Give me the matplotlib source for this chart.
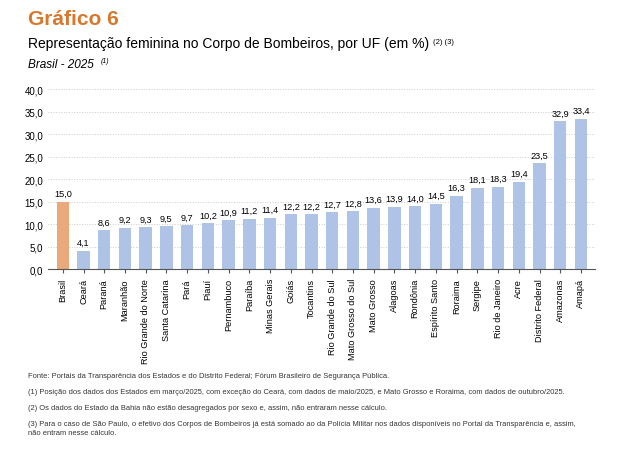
import matplotlib
matplotlib.use("Agg")
import matplotlib.pyplot as plt

ufs = ["Brasil", "Ceará", "Paraná", "Maranhão", "Rio Grande do Norte", "Santa Catarina",
       "Pará", "Piauí", "Pernambuco", "Paraíba", "Minas Gerais", "Goiás", "Tocantins",
       "Rio Grande do Sul", "Mato Grosso do Sul", "Mato Grosso", "Alagoas", "Rondônia",
       "Espírito Santo", "Roraima", "Sergipe", "Rio de Janeiro", "Acre", "Distrito Federal",
       "Amazonas", "Amapá"]
values = [15.0, 4.1, 8.6, 9.2, 9.3, 9.5, 9.7, 10.2, 10.9, 11.2, 11.4, 12.2, 12.2, 12.7,
          12.8, 13.6, 13.9, 14.0, 14.5, 16.3, 18.1, 18.3, 19.4, 23.5, 32.9, 33.4]
yticks = [0, 5, 10, 15, 20, 25, 30, 35, 40]

plt.rcParams["font.family"] = ["Liberation Sans", "DejaVu Sans"]

fig = plt.figure(figsize=(6.19, 4.6), dpi=100)
ax = fig.add_axes([0.078, 0.413, 0.884, 0.391])

colors = ["#e9a97a"] + ["#aec3e6"] * (len(values) - 1)
x = range(len(values))
ax.bar(x, values, width=0.6, color=colors, zorder=2)
for i, v in enumerate(values):
    ax.text(i, v + 0.8, f"{v:.1f}".replace(".", ","), ha="center", va="bottom", fontsize=6.6)

ax.set_ylim(0, 40)
ax.set_xlim(-0.7, len(values) - 0.3)
ax.set_yticks(yticks)
ax.set_yticklabels([f"{t:.1f}".replace(".", ",") for t in yticks], fontsize=7)
ax.set_xticks(list(x))
ax.set_xticklabels(ufs, rotation=90, fontsize=6.6)
ax.tick_params(axis="y", length=0)
ax.tick_params(axis="x", length=3, color="#555555")
ax.grid(axis="y", color="#cccccc", linestyle=":", linewidth=0.7, zorder=0)
for s in ["top", "right", "left"]:
    ax.spines[s].set_visible(False)
ax.spines["bottom"].set_color("#555555")

fig.text(0.045, 0.945, "Gráfico 6", fontsize=15, fontweight="bold", color="#d9772b")
fig.text(0.045, 0.895, "Representação feminina no Corpo de Bombeiros, por UF (em %)", fontsize=10)
fig.text(0.700, 0.905, "(2) (3)", fontsize=5.5)
fig.text(0.045, 0.852, "Brasil - 2025", fontsize=8.5, style="italic")
fig.text(0.163, 0.862, "(1)", fontsize=5, style="italic")

notes = [
    "Fonte: Portais da Transparência dos Estados e do Distrito Federal; Fórum Brasileiro de Segurança Pública.",
    "(1) Posição dos dados dos Estados em março/2025, com exceção do Ceará, com dados de maio/2025, e Mato Grosso e Roraima, com dados de outubro/2025.",
    "(2) Os dados do Estado da Bahia não estão desagregados por sexo e, assim, não entraram nesse cálculo.",
    "(3) Para o caso de São Paulo, o efetivo dos Corpos de Bombeiros já está somado ao da Polícia Militar nos dados disponíveis no Portal da Transparência e, assim,\nnão entram nesse cálculo.",
]
ys = [0.19, 0.155, 0.12, 0.085]
for y, n in zip(ys, notes):
    fig.text(0.045, y, n, fontsize=5.4, va="top", color="#333333", linespacing=1.5)

fig.savefig("out.png", dpi=100)
